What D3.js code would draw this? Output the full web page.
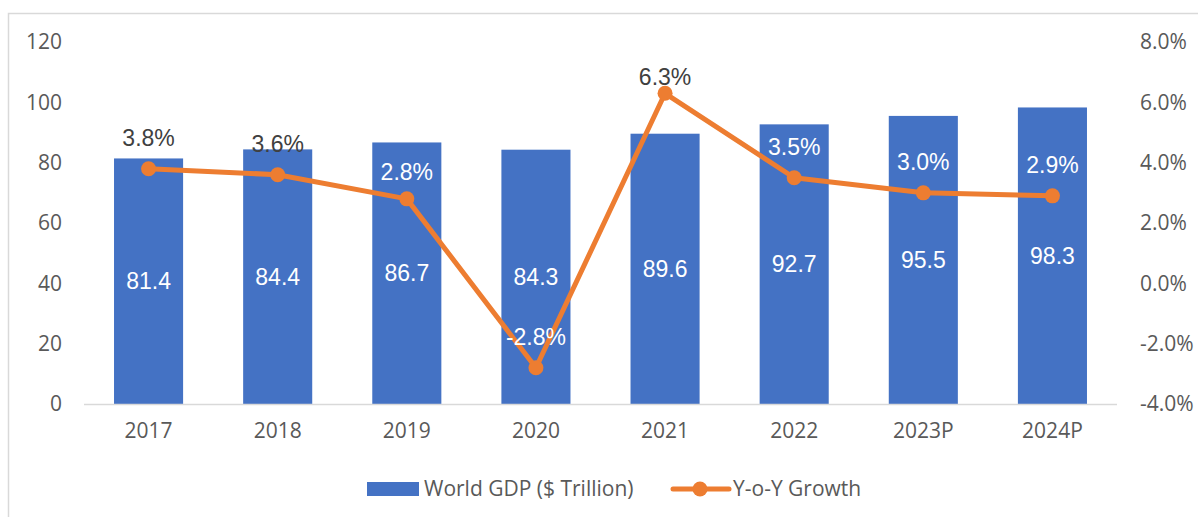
<!DOCTYPE html>
<html>
<head>
<meta charset="utf-8">
<script src="https://cdn.jsdelivr.net/npm/d3@7"></script>
<style>
  html, body { margin: 0; padding: 0; background: #fff; }
  svg { display: block; }
</style>
</head>
<body>
<svg id="chart" width="1198" height="517"></svg>
<script>
// World GDP and year-over-year growth
const years = ["2017", "2018", "2019", "2020", "2021", "2022", "2023P", "2024P"];
const gdp = [81.4, 84.4, 86.7, 84.3, 89.6, 92.7, 95.5, 98.3];
const growth = [3.8, 3.6, 2.8, -2.8, 6.3, 3.5, 3.0, 2.9];
const gdpTicks = [0, 20, 40, 60, 80, 100, 120];
const growthTicks = [-4, -2, 0, 2, 4, 6, 8];

const W = 1198, H = 517;
const m = { left: 84, right: 81, top: 42, bottom: 113 };
const svg = d3.select("#chart");

const blue = "#4472C4", orange = "#ED7D31", grey = "#595959";
const axisFont = "'Open Sans', 'Noto Sans', sans-serif";
const labelFont = "'Liberation Sans', Arial, sans-serif";
const axisSize = 21, labelSize = 23;

// chart frame
svg.append("path")
  .attr("d", `M8.5,${H + 2} L8.5,13.5 L${W + 2},13.5`)
  .attr("fill", "none").attr("stroke", "#D9D9D9").attr("stroke-width", 1.5);

const x = d3.scaleBand().domain(years).range([m.left, W - m.right]).paddingInner(0.465).paddingOuter(0.2325);
const yL = d3.scaleLinear().domain([0, 120]).range([H - m.bottom, m.top]);
const yR = d3.scaleLinear().domain([-4, 8]).range([H - m.bottom, m.top]);

// left axis
const axL = svg.append("g").attr("transform", `translate(62,0)`)
  .call(d3.axisLeft(yL).tickValues(gdpTicks).tickSize(0).tickPadding(0));
axL.select(".domain").remove();
axL.selectAll("text").attr("font-family", axisFont).attr("font-size", axisSize).attr("fill", grey);

// right axis
const axR = svg.append("g").attr("transform", `translate(1140,0)`)
  .call(d3.axisRight(yR).tickValues(growthTicks).tickSize(0).tickPadding(0));
axR.select(".domain").remove();
axR.selectAll("text").attr("font-family", axisFont).attr("font-size", axisSize).attr("fill", grey)
  .text(d => (d < 0 ? "-" : "") + Math.abs(d).toFixed(1) + "%");

// bars
const bars = years.map((c, i) => ({ c, v: gdp[i] }));
svg.append("g").selectAll("rect").data(bars).join("rect")
  .attr("x", d => x(d.c)).attr("width", x.bandwidth())
  .attr("y", d => yL(d.v)).attr("height", d => yL(0) - yL(d.v))
  .attr("fill", blue);

// baseline
svg.append("line")
  .attr("x1", m.left).attr("x2", W - m.right)
  .attr("y1", yL(0) + 0.5).attr("y2", yL(0) + 0.5)
  .attr("stroke", "#D9D9D9").attr("stroke-width", 1.5);

// category axis
const axB = svg.append("g").attr("transform", `translate(0,${yL(0)})`)
  .call(d3.axisBottom(x).tickSize(0).tickPadding(19));
axB.select(".domain").remove();
axB.selectAll("text").attr("font-family", axisFont).attr("font-size", axisSize).attr("fill", grey);

// bar value labels
svg.append("g").selectAll("text").data(bars).join("text")
  .attr("x", d => x(d.c) + x.bandwidth() / 2)
  .attr("y", d => (yL(d.v) + yL(0)) / 2)
  .attr("dy", "0.35em").attr("text-anchor", "middle")
  .attr("font-family", labelFont).attr("font-size", labelSize).attr("fill", "#fff")
  .text(d => d.v.toFixed(1));

// growth line
const pts = years.map((c, i) => ({ c, v: growth[i], gv: gdp[i] }));
const cx = d => x(d.c) + x.bandwidth() / 2;
svg.append("path").datum(pts)
  .attr("d", d3.line().x(cx).y(d => yR(d.v)))
  .attr("fill", "none").attr("stroke", orange).attr("stroke-width", 5)
  .attr("stroke-linejoin", "round").attr("stroke-linecap", "round");
svg.append("g").selectAll("circle").data(pts).join("circle")
  .attr("cx", cx).attr("cy", d => yR(d.v)).attr("r", 7.5).attr("fill", orange);

// growth labels, raised above each marker
const labelLift = { "2019": 27, "2021": 16 };
const ly = d => yR(d.v) - (labelLift[d.c] ?? 31);
svg.append("g").selectAll("text").data(pts).join("text")
  .attr("x", cx)
  .attr("y", ly)
  .attr("dy", "0.35em").attr("text-anchor", "middle")
  .attr("font-family", labelFont).attr("font-size", labelSize)
  .attr("fill", d => ly(d) > yL(d.gv) + 4 ? "#fff" : "#404040")
  .text(d => d.v.toFixed(1) + "%");

// legend
const lg = svg.append("g");
lg.append("rect").attr("x", 367).attr("y", 482).attr("width", 52).attr("height", 14).attr("fill", blue);
lg.append("text").attr("x", 424).attr("y", 489).attr("dy", "0.35em")
  .attr("font-family", axisFont).attr("font-size", axisSize).attr("fill", grey)
  .text("World GDP ($ Trillion)");
lg.append("line").attr("x1", 673).attr("x2", 729).attr("y1", 489).attr("y2", 489)
  .attr("stroke", orange).attr("stroke-width", 5).attr("stroke-linecap", "round");
lg.append("circle").attr("cx", 700).attr("cy", 489).attr("r", 7.5).attr("fill", orange);
lg.append("text").attr("x", 733).attr("y", 489).attr("dy", "0.35em")
  .attr("font-family", axisFont).attr("font-size", axisSize).attr("fill", grey)
  .text("Y-o-Y Growth");
</script>
</body>
</html>
